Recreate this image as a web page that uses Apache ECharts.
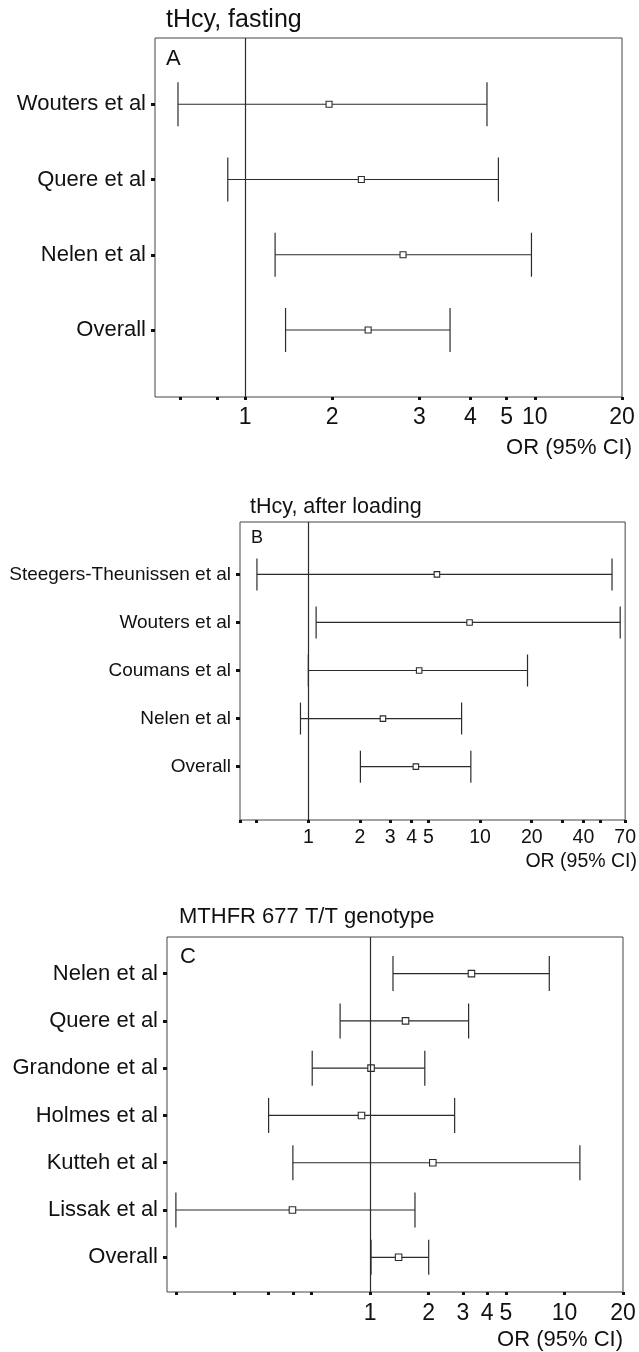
<!DOCTYPE html>
<html><head><meta charset="utf-8">
<script src="https://cdn.jsdelivr.net/npm/echarts@6/dist/echarts.min.js"></script>
<style>html,body{margin:0;padding:0;background:#fff}#c{width:639px;height:1352px}</style>
</head><body><div id="c"></div>
<script>
// ---- Panel A: tHcy, fasting ----
const studiesA = ['Wouters et al', 'Quere et al', 'Nelen et al', 'Overall'];
const orA = [1.95, 2.52, 3.51, 2.66];
const loA = [0.587, 0.872, 1.27, 1.38];
const hiA = [6.84, 7.49, 9.74, 5.10];
const ticksA = [0.6, 0.8, 1, 2, 4, 6, 8, 10, 20];
const tickLabelsA = ['', '', '1', '2', '3', '4', '5', '10', '20'];

// ---- Panel B: tHcy, after loading ----
const studiesB = ['Steegers-Theunissen et al', 'Wouters et al', 'Coumans et al', 'Nelen et al', 'Overall'];
const orB = [5.61, 8.69, 4.42, 2.72, 4.23];
const loB = [0.502, 1.11, 1.00, 0.90, 2.01];
const hiB = [58.7, 65.5, 18.9, 7.81, 8.84];
const ticksB = [0.4, 0.5, 1, 2, 3, 4, 5, 10, 20, 30, 40, 50, 70];
const tickLabelsB = ['', '', '1', '2', '3', '4', '5', '10', '20', '', '40', '', '70'];

// ---- Panel C: MTHFR 677 T/T genotype ----
const studiesC = ['Nelen et al', 'Quere et al', 'Grandone et al', 'Holmes et al', 'Kutteh et al', 'Lissak et al', 'Overall'];
const orC = [3.32, 1.52, 1.01, 0.902, 2.10, 0.398, 1.40];
const loC = [1.31, 0.70, 0.503, 0.30, 0.40, 0.10, 1.01];
const hiC = [8.35, 3.21, 1.91, 2.72, 12.0, 1.70, 2.00];
const ticksC = [0.1, 0.2, 0.3, 0.4, 0.5, 1, 2, 3, 4, 5, 10, 20];
const tickLabelsC = ['', '', '', '', '', '1', '2', '3', '4', '5', '10', '20'];

const titles = ['tHcy, fasting', 'tHcy, after loading', 'MTHFR 677 T/T genotype'];
const letters = ['A', 'B', 'C'];
const axisName = 'OR (95% CI)';

const FONT = '"Liberation Sans", Arial, Helvetica, sans-serif';
const INK = '#2b2b2b';

const panels = [
  { studies: studiesA, or: orA, lo: loA, hi: hiA, ticks: ticksA, labels: tickLabelsA,
    grid: { left: 155, top: 38, width: 467, height: 359 }, xMin: 0.489, xMax: 20, yMin: 0.12, yMax: 4.89,
    rowFont: 22, axisFont: 23, axisMargin: 9, cap: 22, box: 6,
    titleX: 166, titleY: 20, titleFont: 25, letterX: 166, letterY: 59, letterFont: 22,
    nameX: 632, nameY: 448, nameFont: 22 },
  { studies: studiesB, or: orB, lo: loB, hi: hiB, ticks: ticksB, labels: tickLabelsB,
    grid: { left: 240, top: 522, width: 389.5, height: 298 }, xMin: 0.4, xMax: 70, yMin: -0.09, yMax: 6.11,
    rowFont: 19, axisFont: 19.5, axisMargin: 8, cap: 16, box: 5.5,
    titleX: 250, titleY: 507, titleFont: 21.5, letterX: 251, letterY: 538, letterFont: 18,
    nameX: 637, nameY: 862, nameFont: 19.5 },
  { studies: studiesC, or: orC, lo: loC, hi: hiC, ticks: ticksC, labels: tickLabelsC,
    grid: { left: 167, top: 937, width: 456, height: 355 }, xMin: 0.09, xMax: 20, yMin: 0.226, yMax: 7.734,
    rowFont: 22, axisFont: 23, axisMargin: 10, cap: 17.5, box: 6.5,
    titleX: 179, titleY: 917, titleFont: 22, letterX: 180, letterY: 957, letterFont: 22,
    nameX: 623, nameY: 1340, nameFont: 22 }
];

function labelFor(ticks, labels, v) {
  for (let k = 0; k < ticks.length; k++) {
    if (Math.abs(Math.log10(ticks[k]) - Math.log10(v)) < 1e-6) return labels[k];
  }
  return '';
}

const grid = [], xAxis = [], yAxis = [], series = [], graphic = [];
panels.forEach((p, i) => {
  grid.push(Object.assign({ show: true, borderColor: '#444', borderWidth: 1, backgroundColor: 'transparent' }, p.grid));
  xAxis.push({
    type: 'log', logBase: 10, gridIndex: i, min: p.xMin, max: p.xMax, position: 'bottom',
    axisLine: { show: false, onZero: false }, splitLine: { show: false }, minorTick: { show: false },
    axisTick: { show: true, inside: false, length: 3, customValues: p.ticks, lineStyle: { color: '#111', width: 3 } },
    axisLabel: {
      show: true, customValues: p.ticks.filter((t, k) => p.labels[k] !== ''),
      formatter: v => labelFor(p.ticks, p.labels, v),
      fontSize: p.axisFont, fontFamily: FONT, color: '#111', margin: p.axisMargin
    }
  });
  const rows = p.studies.map((s, k) => k + 1);
  yAxis.push({
    type: 'value', gridIndex: i, inverse: true, min: p.yMin, max: p.yMax, position: 'left',
    axisLine: { show: false, onZero: false }, splitLine: { show: false },
    axisTick: { show: true, length: 4, customValues: rows, lineStyle: { color: '#111', width: 3 } },
    axisLabel: {
      customValues: rows, formatter: v => p.studies[Math.round(v) - 1] || '',
      fontSize: p.rowFont, fontFamily: FONT, color: '#111', margin: 9
    }
  });
  const cap = p.cap, box = p.box;
  series.push({
    type: 'custom', xAxisIndex: i, yAxisIndex: i, silent: true, clip: false,
    data: p.studies.map((s, k) => [p.lo[k], p.or[k], p.hi[k], k + 1]),
    encode: { x: [0, 1, 2], y: 3 },
    renderItem: (params, api) => {
      const y = api.value(3);
      const pl = api.coord([api.value(0), y]);
      const pm = api.coord([api.value(1), y]);
      const ph = api.coord([api.value(2), y]);
      const st = { stroke: INK, lineWidth: 1.2 };
      return { type: 'group', children: [
        { type: 'line', shape: { x1: pl[0], y1: pl[1], x2: ph[0], y2: ph[1] }, style: st },
        { type: 'line', shape: { x1: pl[0], y1: pl[1] - cap, x2: pl[0], y2: pl[1] + cap }, style: st },
        { type: 'line', shape: { x1: ph[0], y1: ph[1] - cap, x2: ph[0], y2: ph[1] + cap }, style: st },
        { type: 'rect', shape: { x: pm[0] - box / 2, y: pm[1] - box / 2, width: box, height: box },
          style: { fill: '#fff', stroke: INK, lineWidth: 1.1 } }
      ] };
    },
    markLine: {
      silent: true, symbol: 'none', animation: false, label: { show: false },
      lineStyle: { color: INK, width: 1.2, type: 'solid' },
      data: [{ xAxis: 1 }]
    }
  });
  graphic.push(
    { type: 'text', x: p.titleX, y: p.titleY, silent: true,
      style: { text: titles[i], fontSize: p.titleFont, fontFamily: FONT, fill: '#111', textAlign: 'left', textVerticalAlign: 'middle' } },
    { type: 'text', x: p.letterX, y: p.letterY, silent: true,
      style: { text: letters[i], fontSize: p.letterFont, fontFamily: FONT, fill: '#111', textAlign: 'left', textVerticalAlign: 'middle' } },
    { type: 'text', x: p.nameX, y: p.nameY, silent: true,
      style: { text: axisName, fontSize: p.nameFont, fontFamily: FONT, fill: '#111', textAlign: 'right', textVerticalAlign: 'middle' } }
  );
});

const chart = echarts.init(document.getElementById('c'), null, { renderer: 'canvas' });
chart.setOption({ animation: false, backgroundColor: '#fff', grid, xAxis, yAxis, series, graphic });
</script></body></html>
